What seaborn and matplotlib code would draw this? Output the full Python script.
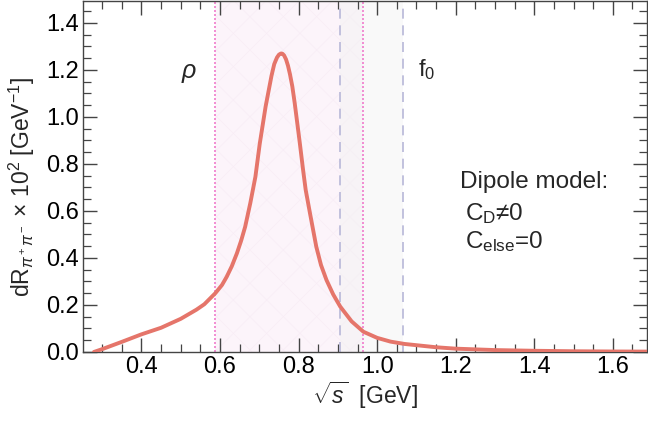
import matplotlib
matplotlib.use('Agg')
import matplotlib.pyplot as plt
import seaborn as sns
import pandas as pd
from matplotlib.ticker import MultipleLocator

# Curve
sqrt_s = [0.279, 0.30, 0.35, 0.40, 0.45, 0.50, 0.54, 0.56, 0.588, 0.605, 0.617,
          0.630, 0.643, 0.654, 0.664, 0.677, 0.690, 0.701, 0.716, 0.731, 0.738,
          0.745, 0.750, 0.755, 0.759, 0.763, 0.768, 0.773, 0.778, 0.784, 0.790,
          0.803, 0.811, 0.818, 0.829, 0.845, 0.857, 0.871, 0.888, 0.906, 0.935,
          0.965, 1.00, 1.034, 1.07, 1.110, 1.15, 1.20, 1.30, 1.40, 1.50, 1.60, 1.69]
dR = [0.0, 0.012, 0.043, 0.075, 0.103, 0.141, 0.180, 0.203, 0.25, 0.285, 0.32,
      0.365, 0.42, 0.475, 0.533, 0.633, 0.745, 0.885, 1.044, 1.175, 1.225,
      1.253, 1.265, 1.270, 1.269, 1.262, 1.245, 1.218, 1.182, 1.130, 1.060,
      0.890, 0.780, 0.690, 0.590, 0.448, 0.370, 0.306, 0.245, 0.193, 0.130,
      0.086, 0.060, 0.044, 0.034, 0.027, 0.020, 0.014, 0.008, 0.005, 0.003,
      0.002, 0.0015]

rho_band = (0.588, 0.964)
f0_band = (0.906, 1.066)

df = pd.DataFrame({"s": sqrt_s, "dR": dR})

sns.set_style("ticks")
plt.rcParams['font.family'] = ['Liberation Sans', 'DejaVu Sans']
plt.rcParams['mathtext.fontset'] = 'custom'
plt.rcParams['mathtext.rm'] = 'Liberation Sans'
plt.rcParams['mathtext.it'] = 'Liberation Sans:italic'
plt.rcParams['hatch.linewidth'] = 0.4

fig = plt.figure(figsize=(6.48, 4.21), dpi=100)
ax = fig.add_axes([0.128, 0.164, 0.8705, 0.834])

# shaded resonance regions
ax.axvspan(*rho_band, color='#fcf4fa', lw=0, zorder=0)
ax.axvspan(*rho_band, facecolor='none', edgecolor='#f8ecf5', hatch='x', lw=0, zorder=0)
ax.axvspan(*f0_band, color='#f2f2f2', alpha=0.45, lw=0, zorder=0)
ax.axvline(rho_band[0], color='#f07ccc', ls=(0, (1.2, 1.2)), lw=1.2)
ax.axvline(rho_band[1], color='#f07ccc', ls=(0, (1.2, 1.2)), lw=1.2)
ax.axvline(f0_band[0], color='#b8b8d8', ls=(0, (6, 4)), lw=1.2)
ax.axvline(f0_band[1], color='#b8b8d8', ls=(0, (6, 4)), lw=1.2)

sns.lineplot(data=df, x="s", y="dR", ax=ax, color='#e5756a', lw=2.8, zorder=3)

ax.set_xlim(0.251, 1.687)
ax.set_ylim(0, 1.494)
ax.xaxis.set_major_locator(MultipleLocator(0.2))
ax.xaxis.set_minor_locator(MultipleLocator(0.05))
ax.yaxis.set_major_locator(MultipleLocator(0.2))
ax.yaxis.set_minor_locator(MultipleLocator(0.05))
ax.tick_params(which='both', direction='in', top=True, right=True,
               colors='#444444', labelcolor='black', labelsize=17, pad=3)
ax.tick_params(which='major', length=10, width=1)
ax.tick_params(which='minor', length=6, width=0.9)
for sp in ax.spines.values():
    sp.set_color('#444444')
    sp.set_linewidth(1)

ax.set_xlabel(r'$\sqrt{s}$  [GeV]', fontsize=16.5, labelpad=1)
ax.set_ylabel(r'dR$_{\pi^+\pi^-}$ $\times$ 10$^2$ [GeV$^{-1}$]', fontsize=16.5, labelpad=2)
ax.yaxis.set_label_coords(-0.082, 0.47)

ax.text(0.522, 1.187, r'$\rho$', fontsize=18, ha='center', va='center')
ax.text(1.125, 1.20, r'f$_0$', fontsize=17, ha='center', va='center')
ax.text(1.210, 0.723, 'Dipole model:', fontsize=17.5, ha='left', va='center')
ax.text(1.224, 0.591, 'C$_\\mathrm{D}$≠0', fontsize=17.5, ha='left', va='center')
ax.text(1.224, 0.468, r'C$_\mathrm{else}$=0', fontsize=17.5, ha='left', va='center')

fig.savefig('out.png', dpi=100)
